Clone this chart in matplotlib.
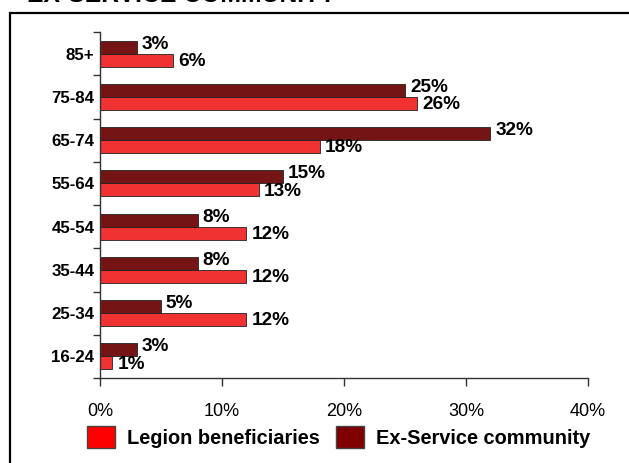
import numpy as np
import matplotlib
matplotlib.use('Agg')
import matplotlib.pyplot as plt
from matplotlib.patches import Rectangle, Patch

plt.rcParams['font.family'] = ['Liberation Sans', 'DejaVu Sans']

# age bands, listed bottom to top
age_bands = ['16-24', '25-34', '35-44', '45-54', '55-64', '65-74', '75-84', '85+']
legion = [1, 12, 12, 12, 13, 18, 26, 6]
ex_service = [3, 5, 8, 8, 15, 32, 25, 3]
x_ticks = [0, 10, 20, 30, 40]

red = '#F03232'
maroon = '#741414'

fig = plt.figure(figsize=(6.29, 4.63), dpi=100)
ax = fig.add_axes([0.159, 0.1836, 0.776, 0.747])

y = np.arange(len(age_bands))
h = 0.3
ax.barh(y - h / 2, legion, height=h, color=red, edgecolor='#222222', linewidth=0.6)
ax.barh(y + h / 2, ex_service, height=h, color=maroon, edgecolor='#222222', linewidth=0.6)

for yi, v in zip(y, legion):
    ax.text(v + 0.45, yi - h / 2 - 0.03, f'{v}%', va='center', ha='left',
            fontsize=13.7, fontweight='bold')
for yi, v in zip(y, ex_service):
    ax.text(v + 0.4, yi + h / 2 + 0.07, f'{v}%', va='center', ha='left',
            fontsize=13.7, fontweight='bold')

ax.set_xlim(0, 40)
ax.set_ylim(-0.5, len(age_bands) - 0.5)
ax.set_xticks(x_ticks)
ax.set_xticklabels([f'{t}%' for t in x_ticks], fontsize=13)
ax.set_yticks(y)
ax.set_yticklabels(age_bands, fontsize=12.2, fontweight='bold')
ax.set_yticks(np.arange(-0.5, len(age_bands)), minor=True)
ax.tick_params(axis='y', which='major', length=0, pad=4)
ax.tick_params(axis='y', which='minor', length=5, width=1, color='#333333')
ax.tick_params(axis='x', which='major', length=6, width=1, color='#333333', pad=12)

for s in ['top', 'right']:
    ax.spines[s].set_visible(False)
for s in ['left', 'bottom']:
    ax.spines[s].set_color('#333333')
    ax.spines[s].set_linewidth(1)

handles = [Patch(facecolor='#FF0000', edgecolor='#444444', label='Legion beneficiaries'),
           Patch(facecolor='#800000', edgecolor='#444444', label='Ex-Service community')]
fig.legend(handles=handles, loc='center', bbox_to_anchor=(0.539, 0.056), ncol=2,
           frameon=False, prop={'weight': 'bold', 'size': 14.4},
           handlelength=1.4, handleheight=1.35, handletextpad=0.6, columnspacing=0.8)

# frame round the chart and the clipped heading above it
fig.add_artist(Rectangle((10 / 629, -0.1), 1.0, 0.972 + 0.1, transform=fig.transFigure,
                         fill=False, linewidth=1.6, edgecolor='black'))
fig.text(0.043, 0.996, 'EX-SERVICE COMMUNITY', fontsize=17.8, fontweight='bold',
         va='baseline', ha='left')

fig.savefig('out.png', dpi=100)
